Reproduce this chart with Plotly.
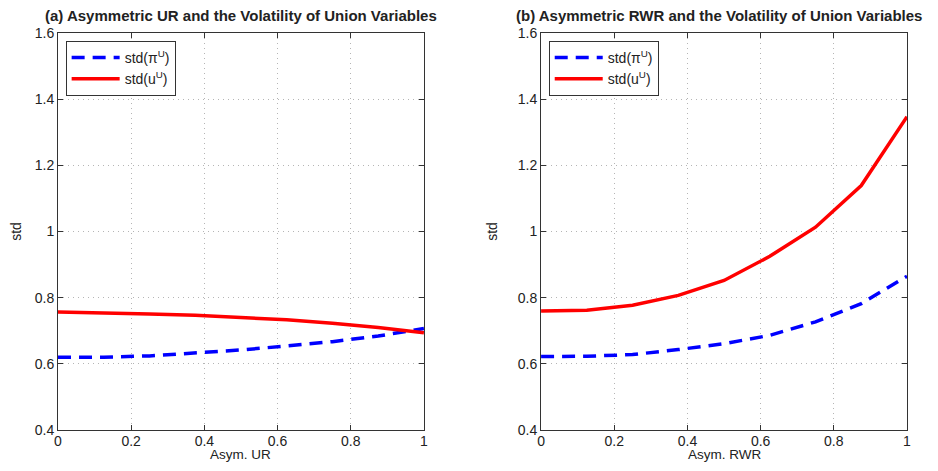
import plotly.graph_objects as go

x_ur = [0, 0.125, 0.25, 0.375, 0.5, 0.625, 0.75, 0.875, 1.0]
pi_ur = [0.620, 0.620, 0.624, 0.632, 0.642, 0.654, 0.667, 0.684, 0.707]
u_ur = [0.757, 0.755, 0.751, 0.747, 0.740, 0.733, 0.723, 0.710, 0.694]

x_rwr = [0, 0.125, 0.25, 0.375, 0.5, 0.625, 0.75, 0.875, 1.0]
pi_rwr = [0.622, 0.623, 0.628, 0.643, 0.661, 0.686, 0.727, 0.782, 0.865]
u_rwr = [0.760, 0.762, 0.777, 0.807, 0.852, 0.925, 1.013, 1.139, 1.347]

titles = ["(a) Asymmetric UR and the Volatility of Union Variables",
          "(b) Asymmetric RWR and the Volatility of Union Variables"]
xlabels = ["Asym. UR", "Asym. RWR"]
ylabel = "std"
names = ["std(π<sup>U</sup>)", "std(u<sup>U</sup>)"]
xticks = [0, 0.2, 0.4, 0.6, 0.8, 1]
xtick_text = ["0", "0.2", "0.4", "0.6", "0.8", "1"]
yticks = [0.4, 0.6, 0.8, 1.0, 1.2, 1.4, 1.6]
ytick_text = ["0.4", "0.6", "0.8", "1", "1.2", "1.4", "1.6"]

FONT = "Liberation Sans, Arial, sans-serif"
fig = go.Figure()

series = [(x_ur, pi_ur, u_ur), (x_rwr, pi_rwr, u_rwr)]
for i, (xs, p, u) in enumerate(series):
    ax = "" if i == 0 else "2"
    leg = "legend" if i == 0 else "legend2"
    fig.add_trace(go.Scatter(x=xs, y=p, mode="lines", name=names[0],
                             line=dict(color="#0000ff", width=3.5, dash="13px,8px"),
                             xaxis="x" + ax, yaxis="y" + ax, legend=leg))
    fig.add_trace(go.Scatter(x=xs, y=u, mode="lines", name=names[1],
                             line=dict(color="#ff0000", width=3.5),
                             xaxis="x" + ax, yaxis="y" + ax, legend=leg))

axis_common = dict(showgrid=True, gridcolor="#b5b5b5", griddash="1px,4px", gridwidth=1,
                   showline=True, linecolor="#333333", linewidth=1, mirror="allticks",
                   ticks="inside", ticklen=5, tickcolor="#333333", zeroline=False,
                   automargin=False,
                   tickfont=dict(family=FONT, size=14, color="#222222"))
doms = [[0, 0.431], [0.569, 1]]
# page body has an 8px margin, so the figure is sized/offset to compensate
layout = dict(
    width=922, height=455,
    margin=dict(l=50, r=23, t=25, b=33, autoexpand=False),
    paper_bgcolor="white", plot_bgcolor="white",
    font=dict(family=FONT, color="#222222"),
    showlegend=True,
)
for i in range(2):
    ax = "" if i == 0 else "2"
    layout["xaxis" + ax] = dict(axis_common, domain=doms[i], range=[0, 1], tickvals=xticks,
                                ticktext=xtick_text, anchor="y" + ax, ticklabelstandoff=-2)
    layout["yaxis" + ax] = dict(axis_common, domain=[0, 1], range=[0.4, 1.6], tickvals=yticks,
                                ticktext=ytick_text, anchor="x" + ax,
                                title=dict(text=ylabel, font=dict(family=FONT, size=14), standoff=16))
    legname = "legend" if i == 0 else "legend2"
    layout[legname] = dict(x=doms[i][0] + 0.009, y=0.98, xanchor="left", yanchor="top",
                           bgcolor="white", bordercolor="#333333", borderwidth=1,
                           font=dict(family=FONT, size=14, color="#222222"),
                           tracegroupgap=0, itemwidth=48)
fig.update_layout(**layout)

title_x = [0.2155, 0.778]
for i in range(2):
    fig.add_annotation(text="<b>" + titles[i] + "</b>", x=title_x[i],
                       y=1.0, xref="paper", yref="paper", xanchor="center", yanchor="bottom",
                       yshift=7, showarrow=False, font=dict(family=FONT, size=15, color="#222222"))
    fig.add_annotation(text=xlabels[i], x=(doms[i][0] + doms[i][1]) / 2,
                       y=0, xref="paper", yref="paper", xanchor="center", yanchor="bottom",
                       yshift=-33, showarrow=False, borderpad=0,
                       font=dict(family=FONT, size=13.5, color="#222222"))

fig.write_html("out.html")
